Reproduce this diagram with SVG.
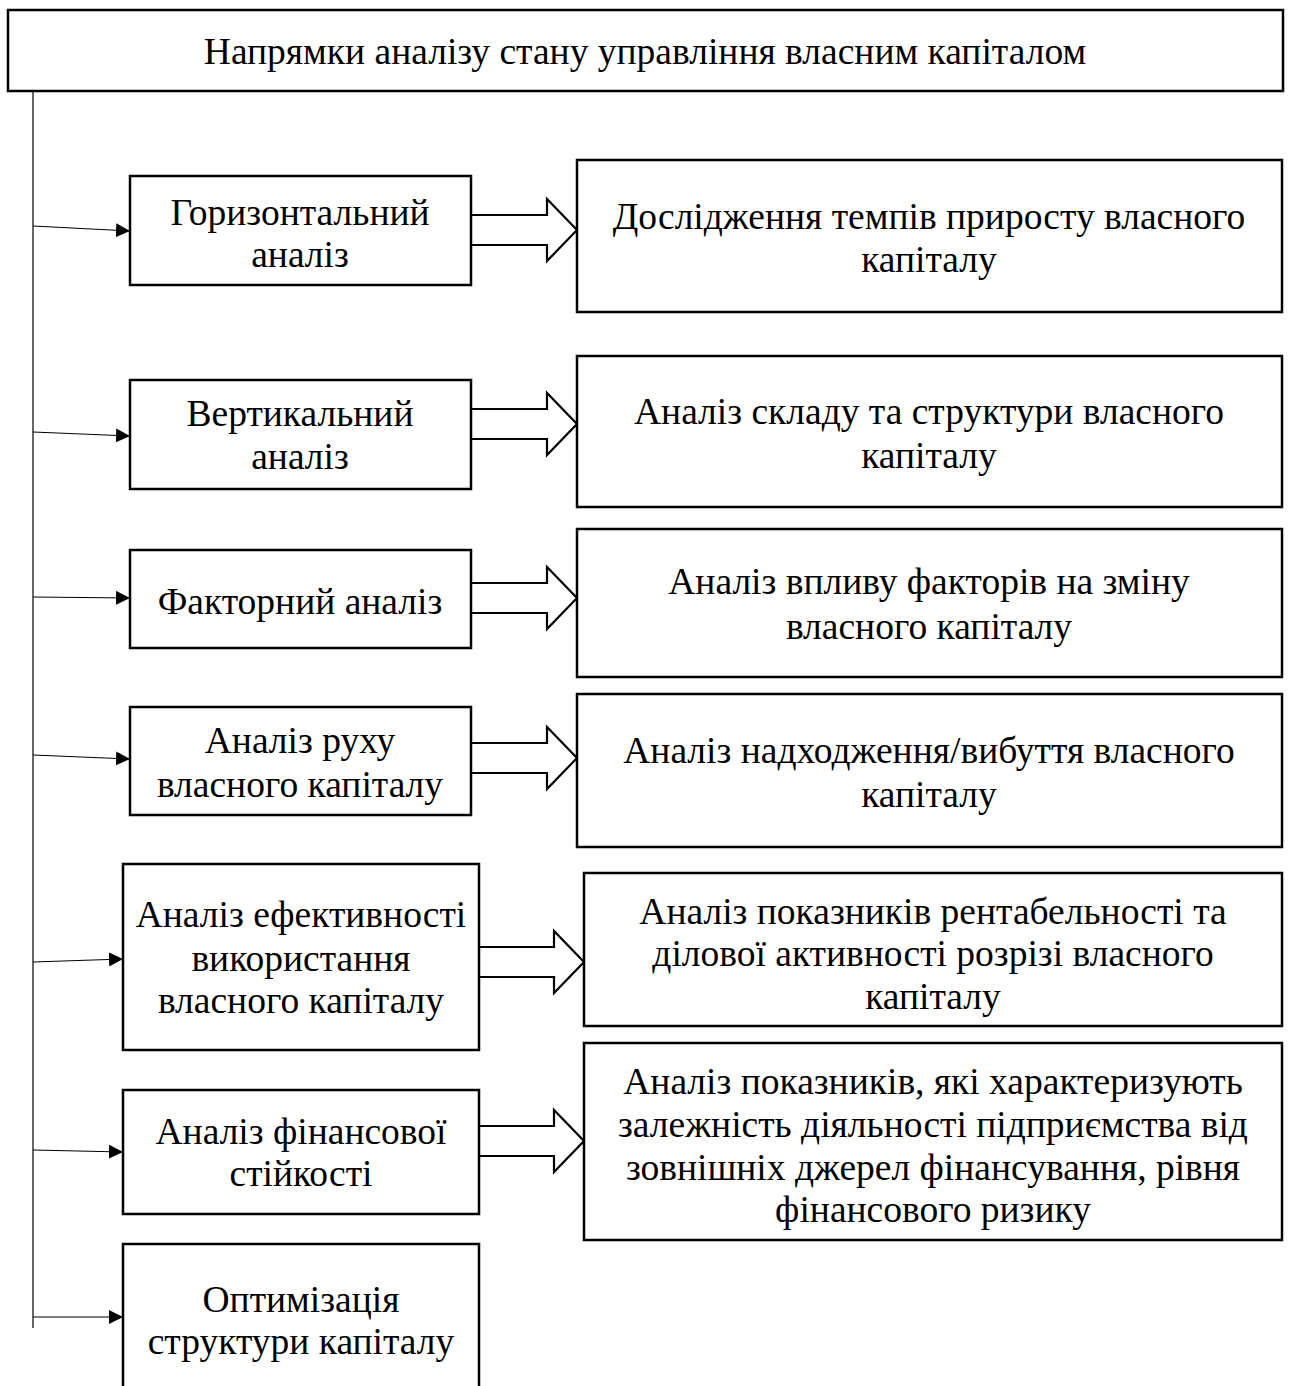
<svg xmlns="http://www.w3.org/2000/svg" width="1290" height="1386" viewBox="0 0 1290 1386">
<style>
.box{fill:#fff;stroke:#000;stroke-width:2.5}
.blk{fill:#fff;stroke:#000;stroke-width:2.2;stroke-linejoin:miter}
.con{stroke:#000;stroke-width:1.2;fill:none}
text{font-family:"Liberation Serif","Times New Roman",serif;font-size:37.5px;fill:#000;text-anchor:middle}
</style>
<defs>
<marker id="ah" viewBox="0 0 14 14" refX="14" refY="7" markerWidth="14" markerHeight="14" markerUnits="userSpaceOnUse" orient="auto">
<path d="M0,0 L14,7 L0,14 Z" fill="#000"/>
</marker>
</defs>
<rect width="1290" height="1386" fill="#fff"/>
<g id="connectors">
<line class="con" x1="33" y1="91" x2="33" y2="1328"/>
<line class="con" x1="33" y1="226" x2="130" y2="231" marker-end="url(#ah)"/>
<line class="con" x1="33" y1="432" x2="130" y2="436" marker-end="url(#ah)"/>
<line class="con" x1="33" y1="597" x2="130" y2="598" marker-end="url(#ah)"/>
<line class="con" x1="33" y1="755" x2="130" y2="759" marker-end="url(#ah)"/>
<line class="con" x1="33" y1="962" x2="123" y2="959" marker-end="url(#ah)"/>
<line class="con" x1="33" y1="1150" x2="123" y2="1152" marker-end="url(#ah)"/>
<line class="con" x1="33" y1="1317" x2="123" y2="1317" marker-end="url(#ah)"/>
<path class="blk" d="M471,215 H547 V199 L577,230 L547,261 V245 H471"/>
<path class="blk" d="M471,409 H547 V393 L577,424 L547,455 V439 H471"/>
<path class="blk" d="M471,583 H547 V567 L577,598 L547,629 V613 H471"/>
<path class="blk" d="M471,743 H547 V727 L577,758 L547,789 V773 H471"/>
<path class="blk" d="M477,947 H554 V931 L584,962 L554,993 V977 H477"/>
<path class="blk" d="M477,1126 H554 V1110 L584,1141 L554,1172 V1156 H477"/>
</g>
<g id="root"><rect class="box" x="8" y="10" width="1275" height="81"/><text x="645" y="64">Напрямки аналізу стану управління власним капіталом</text></g>
<g id="n1"><rect class="box" x="130" y="176" width="341" height="109"/><text x="300" y="225">Горизонтальний</text><text x="300" y="267">аналіз</text></g>
<g id="r1"><rect class="box" x="577" y="160" width="705" height="152"/><text x="929" y="229">Дослідження темпів приросту власного</text><text x="929" y="272">капіталу</text></g>
<g id="n2"><rect class="box" x="130" y="380" width="341" height="109"/><text x="300" y="426">Вертикальний</text><text x="300" y="469">аналіз</text></g>
<g id="r2"><rect class="box" x="577" y="356" width="705" height="151"/><text x="929" y="424">Аналіз складу та структури власного</text><text x="929" y="468">капіталу</text></g>
<g id="n3"><rect class="box" x="130" y="550" width="341" height="98"/><text x="300" y="614">Факторний аналіз</text></g>
<g id="r3"><rect class="box" x="577" y="529" width="705" height="148"/><text x="929" y="594">Аналіз впливу факторів на зміну</text><text x="929" y="639">власного капіталу</text></g>
<g id="n4"><rect class="box" x="130" y="707" width="341" height="108"/><text x="300" y="753">Аналіз руху</text><text x="300" y="797">власного капіталу</text></g>
<g id="r4"><rect class="box" x="577" y="694" width="705" height="153"/><text x="929" y="763">Аналіз надходження/вибуття власного</text><text x="929" y="807">капіталу</text></g>
<g id="n5"><rect class="box" x="123" y="864" width="356" height="186"/><text x="301" y="927">Аналіз ефективності</text><text x="301" y="971">використання</text><text x="301" y="1013">власного капіталу</text></g>
<g id="r5"><rect class="box" x="584" y="873" width="698" height="153"/><text x="933" y="924">Аналіз показників рентабельності та</text><text x="933" y="966">ділової активності розрізі власного</text><text x="933" y="1009">капіталу</text></g>
<g id="n6"><rect class="box" x="123" y="1090" width="356" height="124"/><text x="301" y="1144">Аналіз фінансової</text><text x="301" y="1186">стійкості</text></g>
<g id="r6"><rect class="box" x="584" y="1043" width="698" height="197"/><text x="933" y="1094">Аналіз показників, які характеризують</text><text x="933" y="1137">залежність діяльності підприємства від</text><text x="933" y="1180">зовнішніх джерел фінансування, рівня</text><text x="933" y="1222">фінансового ризику</text></g>
<g id="n7"><rect class="box" x="123" y="1244" width="356" height="200"/><text x="301" y="1312">Оптимізація</text><text x="301" y="1354">структури капіталу</text></g>
</svg>
